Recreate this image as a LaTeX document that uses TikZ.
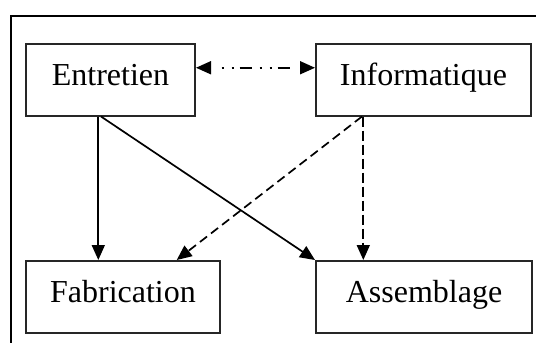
\documentclass[tikz,border=0pt]{standalone}
\usepackage{fontspec}
\setmainfont{Liberation Serif}
\usetikzlibrary{arrows.meta}
\begin{document}
\begin{tikzpicture}[x=1pt,y=-1pt,
  box/.style={draw=black!85,line width=2pt,anchor=north west,inner sep=0pt,
    font=\fontsize{32}{36}\selectfont,text height=22pt,text depth=11pt},
  tip/.style={-{Triangle[length=15pt,width=13pt]}},
  conn/.style={line width=1.7pt,black},
  dsh/.style={conn,dash pattern=on 9pt off 5pt},
  dddash/.style={conn,{Triangle[length=15pt,width=13pt]}-{Triangle[length=15pt,width=13pt]},
    dash pattern=on 0pt off 11pt on 2pt off 8pt on 2pt off 6pt on 12pt off 8pt on 2pt off 8pt on 2pt off 6pt on 12pt off 20pt}]
\useasboundingbox (0,0) rectangle (536,343);
\draw[line width=2pt,black] (11,16) rectangle (580,380);
\node[box,minimum width=169pt,minimum height=71.5pt] (E) at (25,43) {Entretien};
\node[box,minimum width=215pt,minimum height=71.5pt] (I) at (315,43) {Informatique};
\node[box,minimum width=194pt,minimum height=72pt] (F) at (25,260) {Fabrication};
\node[box,minimum width=216pt,minimum height=72pt] (A) at (315,260) {Assemblage};
\draw[conn,tip] ([xshift=73.3pt]E.south west) -- ([xshift=73.3pt]F.north west);
\draw[conn,tip] ([xshift=76pt]E.south west) -- (A.north west);
\draw[dsh,tip] ([xshift=47pt]I.south west) -- ([xshift=151.7pt]F.north west);
\draw[conn,tip,dash pattern=on 10pt off 4pt] ([xshift=48.3pt]I.south west) -- ([xshift=48.3pt]A.north west);
\draw[dddash] ([yshift=12pt]E.east) -- ([yshift=12pt]I.west);
\end{tikzpicture}
\end{document}
